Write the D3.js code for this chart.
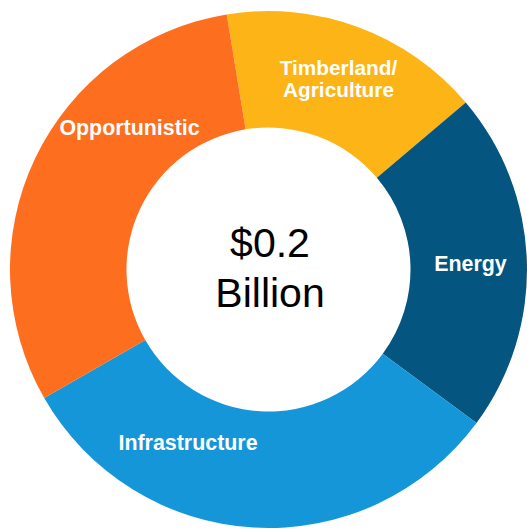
<!DOCTYPE html>
<html>
<head>
<meta charset="utf-8">
<script src="https://cdn.jsdelivr.net/npm/d3@7"></script>
<style>
  html, body { margin: 0; padding: 0; background: #ffffff; }
  svg { display: block; }
</style>
</head>
<body>
<svg id="chart" width="527" height="529"></svg>
<script>
// Allocation by strategy (share of total, %)
const categories = ["Timberland/Agriculture", "Energy", "Infrastructure", "Opportunistic"];
const shares = [16.4, 21.3, 31.6, 30.7];
const labelLines = [["Timberland/", "Agriculture"], ["Energy"], ["Infrastructure"], ["Opportunistic"]];
const centerLines = ["$0.2", "Billion"];

const colors = ["#FDB417", "#04557F", "#1596D9", "#FD6E1F"];

const W = 527, H = 529;
const cx = 268.5, cy = 269.5;
const outerR = 258.5, innerR = 142;
const start = -9.3 * Math.PI / 180;

const svg = d3.select("#chart");
const g = svg.append("g").attr("transform", `translate(${cx},${cy})`);

const data = categories.map((c, i) => ({ name: c, value: shares[i], lines: labelLines[i], color: colors[i] }));

const pie = d3.pie()
  .value(d => d.value)
  .sort(null)
  .startAngle(start)
  .endAngle(start + 2 * Math.PI);

const arc = d3.arc().innerRadius(innerR).outerRadius(outerR);

const arcs = pie(data);

g.selectAll("path.slice")
  .data(arcs)
  .join("path")
  .attr("class", "slice")
  .attr("d", arc)
  .attr("fill", d => d.data.color);

// Label anchors (offsets from the ring's centre, text baseline of first line) and font sizes
const labelAnchor = {
  "Timberland/Agriculture": [70, -195, 20.8],
  "Energy": [202, 1.5, 21.4],
  "Infrastructure": [-80.5, 180.5, 21.4],
  "Opportunistic": [-139, -134.5, 21.4]
};
const lineGap = 22.7;

const labels = g.selectAll("text.slice-label")
  .data(arcs)
  .join("text")
  .attr("class", "slice-label")
  .attr("text-anchor", "middle")
  .attr("fill", "#ffffff")
  .attr("font-family", "'Liberation Sans', Arial, sans-serif")
  .attr("font-weight", "bold")
  .attr("font-size", d => labelAnchor[d.data.name][2])
  .attr("transform", d => `translate(${labelAnchor[d.data.name][0]},${labelAnchor[d.data.name][1]})`);

labels.selectAll("tspan")
  .data(d => d.data.lines)
  .join("tspan")
  .attr("x", 0)
  .attr("y", (d, i) => i * lineGap)
  .text(d => d);

// Total in the centre
g.append("text")
  .attr("text-anchor", "middle")
  .attr("fill", "#000000")
  .attr("font-family", "'Liberation Sans', Arial, sans-serif")
  .attr("font-size", 41)
  .selectAll("tspan")
  .data(centerLines)
  .join("tspan")
  .attr("x", 1.5)
  .attr("y", (d, i) => -12.8 + i * 50)
  .text(d => d);
</script>
</body>
</html>
